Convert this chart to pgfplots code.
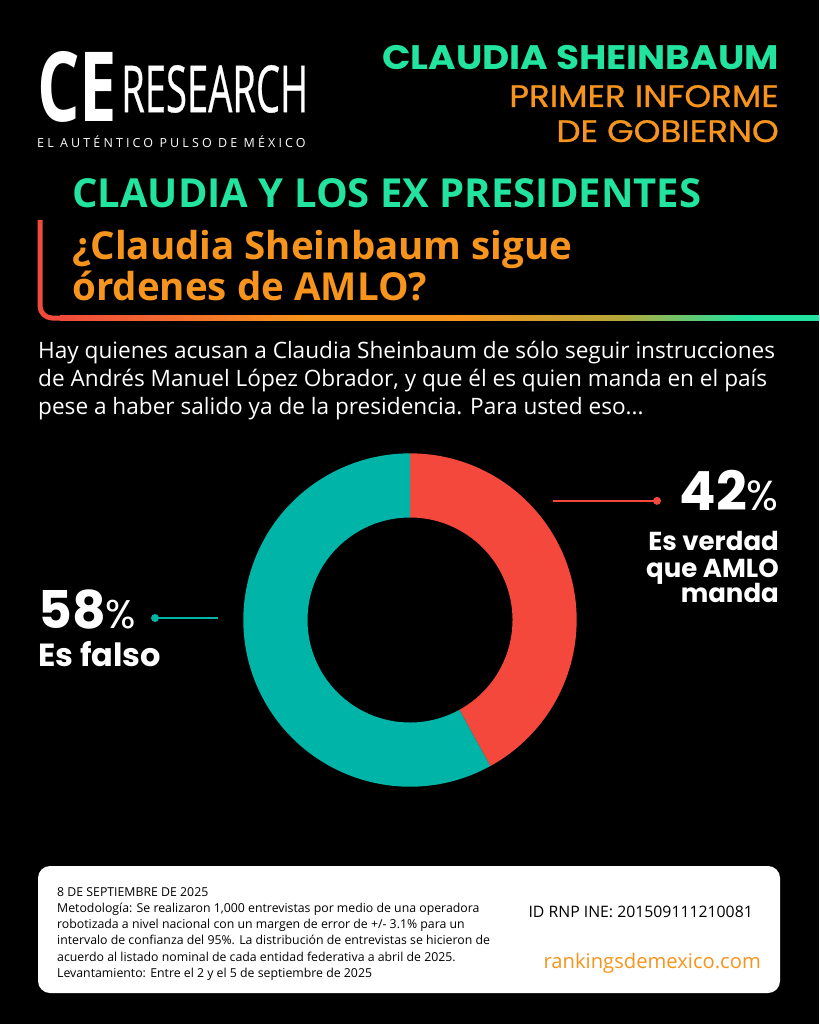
\documentclass[border=0pt]{standalone}
\usepackage{pgfplots}
\pgfplotsset{compat=1.18}
\usepackage{pgfplotstable}
\usepackage{fontspec}
\setmainfont{Open Sans}
\newfontfamily\pop{Poppins}
\newfontfamily\popw{Poppins}[FakeStretch=1.1]

\definecolor{tgreen}{HTML}{22E3A0}
\definecolor{torange}{HTML}{F7941D}
\definecolor{cred}{HTML}{F4483C}
\definecolor{cteal}{HTML}{00B5A7}
\definecolor{fred}{HTML}{F04A3C}
\definecolor{folive}{HTML}{B4A83A}

\pgfdeclarehorizontalshading{frameshade}{100bp}{color(0bp)=(fred); color(25bp)=(fred); color(41bp)=(torange); color(51bp)=(torange); color(62bp)=(folive); color(70bp)=(tgreen); color(100bp)=(tgreen)}

% share of respondents
\pgfplotstableread{
label value
verdad 42
falso 58
}\donut

\begin{document}
\begin{tikzpicture}
\pgfplotstablegetelem{0}{value}\of\donut
\pgfmathsetmacro\aEnd{90-3.6*\pgfplotsretval}
\def\Ro{166.667pt}
\def\Ri{102.5pt}

\begin{scope}[x=1pt,y=-1pt]
\fill[black] (0,0) rectangle (819,1024);
\path[use as bounding box] (0,0) rectangle (819,1024);

% logo
\node[anchor=south west,inner sep=0,text=white] at (37,123) {\resizebox{80pt}{70pt}{\bfseries CE}};
\node[anchor=south west,inner sep=0,text=white] at (121,113) {\resizebox{187pt}{47pt}{\addfontfeatures{FakeBold=0.6}RESEARCH}};
\node[anchor=base west,inner sep=0,text=white] at (37,148) {\fontsize{12.5}{14}\selectfont\addfontfeatures{LetterSpace=25}EL AUTÉNTICO PULSO DE MÉXICO};

% top right header
\node[anchor=base east,inner sep=0,text=tgreen] at (779,70) {\fontsize{34}{38}\selectfont\popw\bfseries CLAUDIA SHEINBAUM};
\node[anchor=base east,inner sep=0,text=torange] at (779,107) {\fontsize{31}{34}\selectfont\popw\addfontfeatures{FakeBold=0.8} PRIMER INFORME};
\node[anchor=base east,inner sep=0,text=torange] at (779,142) {\fontsize{31}{34}\selectfont\popw\addfontfeatures{FakeBold=0.8} DE GOBIERNO};

% section title
\node[anchor=base west,inner sep=0,text=tgreen] at (72,208) {\fontsize{40}{44}\selectfont\bfseries CLAUDIA Y LOS EX PRESIDENTES};
\node[anchor=base west,inner sep=0,text=torange] at (72,259) {\fontsize{38.5}{42}\selectfont\bfseries ¿Claudia Sheinbaum sigue};
\node[anchor=base west,inner sep=0,text=torange] at (72,300) {\fontsize{38.5}{42}\selectfont\bfseries órdenes de AMLO?};

% frame line
\draw[fred,line width=5pt,rounded corners=12pt] (40,220) -- (40,318) -- (70,318);
\shade[shading=frameshade] (60,315.5) rectangle (819,320.5);

% question
\node[anchor=base west,inner sep=0,text=white] at (38,358) {\fontsize{22.6}{27}\selectfont Hay quienes acusan a Claudia Sheinbaum de sólo seguir instrucciones};
\node[anchor=base west,inner sep=0,text=white] at (38,386) {\fontsize{22.6}{27}\selectfont de Andrés Manuel López Obrador, y que él es quien manda en el país};
\node[anchor=base west,inner sep=0,text=white] at (38,414) {\fontsize{22.6}{27}\selectfont pese a haber salido ya de la presidencia. Para usted eso...};

% labels
\node[anchor=base east,inner sep=0,text=white] at (779,510) {\pop{\fontsize{54}{58}\selectfont\bfseries 42}{\fontsize{42}{46}\selectfont\%}};
\node[anchor=base east,inner sep=0,text=white] at (779,550) {\fontsize{26}{30}\selectfont\pop\bfseries Es verdad};
\node[anchor=base east,inner sep=0,text=white] at (779,577) {\fontsize{26}{30}\selectfont\pop\bfseries que AMLO};
\node[anchor=base east,inner sep=0,text=white] at (779,602) {\fontsize{26}{30}\selectfont\pop\bfseries manda};
\node[anchor=base west,inner sep=0,text=white] at (38,628) {\pop{\fontsize{52}{58}\selectfont\bfseries 58}{\fontsize{40}{46}\selectfont\%}};
\node[anchor=base west,inner sep=0,text=white] at (38,666) {\fontsize{32}{36}\selectfont\pop\bfseries Es falso};

% footer
\fill[white,rounded corners=12pt] (38,866) rectangle (780,993);
\begin{scope}[every node/.style={anchor=base west,inner sep=0,text=black,font=\fontsize{12.3}{15}\selectfont}]
\node at (57,896) {8 DE SEPTIEMBRE DE 2025};
\node at (57,912.3) {Metodología: Se realizaron 1,000 entrevistas por medio de una operadora};
\node at (57,928.6) {robotizada a nivel nacional con un margen de error de +/- 3.1\% para un};
\node at (57,944.9) {intervalo de confianza del 95\%. La distribución de entrevistas se hicieron de};
\node at (57,961.2) {acuerdo al listado nominal de cada entidad federativa a abril de 2025.};
\node at (57,977.5) {Levantamiento: Entre el 2 y el 5 de septiembre de 2025};
\end{scope}
\node[anchor=base east,inner sep=0,text=black] at (753,917) {\fontsize{15.8}{19}\selectfont ID RNP INE: 201509111210081};
\node[anchor=base east,inner sep=0,text=torange] at (761,968) {\fontsize{20.2}{24}\selectfont rankingsdemexico.com};
\end{scope}

\begin{axis}[
    at={(410pt,-620pt)}, anchor=center,
    width=400pt, height=400pt, scale only axis,
    xmin=-1.2, xmax=1.2, ymin=-1.2, ymax=1.2,
    hide axis, clip=false,
]
\fill[cred] (axis cs:0,1) arc[start angle=90,end angle=\aEnd,radius=\Ro]
    -- (axis cs:{0.615*cos(\aEnd)},{0.615*sin(\aEnd)})
    arc[start angle=\aEnd,end angle=90,radius=\Ri] -- cycle;
\fill[cteal] (axis cs:{cos(\aEnd)},{sin(\aEnd)}) arc[start angle=\aEnd,end angle=-270,radius=\Ro]
    -- (axis cs:0,0.615)
    arc[start angle=-270,end angle=\aEnd,radius=\Ri] -- cycle;
% callouts
\draw[cred,line width=1.5pt] (axis cs:0.86,0.715) -- (axis cs:1.482,0.715);
\fill[cred] (axis cs:1.482,0.715) circle[radius=4pt];
\draw[cteal,line width=1.5pt] (axis cs:-1.53,0.012) -- (axis cs:-1.15,0.012);
\fill[cteal] (axis cs:-1.53,0.012) circle[radius=4pt];
\end{axis}
\end{tikzpicture}
\end{document}
